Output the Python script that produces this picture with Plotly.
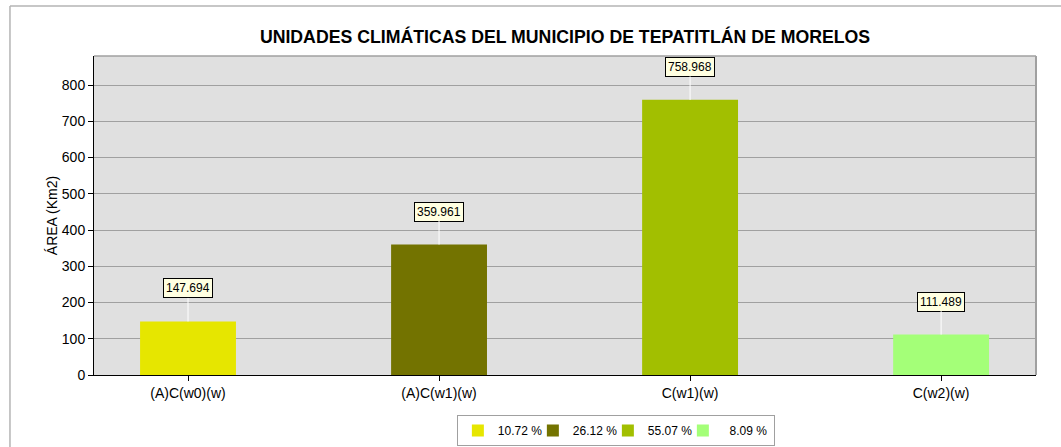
import plotly.graph_objects as go

categories = ["(A)C(w0)(w)", "(A)C(w1)(w)", "C(w1)(w)", "C(w2)(w)"]
areas = [147.694, 359.961, 758.968, 111.489]
percent_labels = ["10.72 %", "26.12 %", "55.07 %", "\u20078.09 %"]
colors = ["#E6E600", "#737300", "#A2BF00", "#A4FF78"]

title_text = "UNIDADES CLIMÁTICAS DEL MUNICIPIO DE TEPATITLÁN DE MORELOS"
y_title = "ÁREA (Km2)"

FONT = "Liberation Sans, Arial, sans-serif"

fig = go.Figure()
n = len(categories)
for i, (cat, val, lab, col) in enumerate(zip(categories, areas, percent_labels, colors)):
    fig.add_trace(go.Bar(
        x=[cat], y=[val], name=lab, marker=dict(color=col, line=dict(width=0)),
        width=0.382, hoverinfo="x+y",
        legendwidth=(46 if i == n - 1 else 30),
    ))

for cat, val in zip(categories, areas):
    fig.add_annotation(
        x=cat, y=val, xref="x", yref="y", text=f"{val:.3f}",
        showarrow=True, arrowhead=0, arrowwidth=1, arrowcolor="white",
        ax=0, ay=-33, bgcolor="#FFFFE1", bordercolor="#000000", borderwidth=1,
        borderpad=2, font=dict(family=FONT, size=12, color="#000"),
    )

# outer chart frame (left and top visible) and plot border (top/right)
fig.add_shape(type="line", xref="paper", yref="paper", x0=-0.0892, x1=1.04, y0=1.1567, y1=1.1567,
              line=dict(color="#B4B4B4", width=1.5), layer="above")
fig.add_shape(type="line", xref="paper", yref="paper", x0=-0.0892, x1=-0.0892, y0=1.1567, y1=-0.25,
              line=dict(color="#B4B4B4", width=1.5), layer="above")
fig.add_shape(type="line", xref="paper", yref="paper", x0=0, x1=1, y0=1, y1=1,
              line=dict(color="#A0A0A0", width=1.5), layer="above")
fig.add_shape(type="line", xref="paper", yref="paper", x0=1, x1=1, y0=0, y1=1,
              line=dict(color="#A0A0A0", width=2), layer="above")

fig.update_layout(
    width=1061, height=447,
    margin=dict(l=94, r=25, t=56, b=72, autoexpand=False),
    paper_bgcolor="white", plot_bgcolor="#E0E0E0",
    barmode="overlay",
    font=dict(family=FONT, size=14, color="#000"),
    title=dict(text=f"<b>{title_text}</b>", x=0.5, xref="paper", xanchor="center",
               y=1 - 37 / 447, yref="container", yanchor="middle",
               font=dict(family=FONT, size=17.7, color="#000")),
    showlegend=True,
    legend=dict(orientation="h", x=0.554, xanchor="center", y=-0.125, yanchor="top",
                bordercolor="#A0A0A0", borderwidth=1, bgcolor="white",
                font=dict(family=FONT, size=12, color="#000"),
                traceorder="normal", itemclick=False, itemdoubleclick=False),
    xaxis=dict(type="category", range=[-0.3745, 3.378], showgrid=False,
               showline=True, linecolor="#000", linewidth=1,
               ticks="outside", ticklen=5, tickcolor="#000", tickwidth=1,
               tickfont=dict(family=FONT, size=14, color="#000"), zeroline=False),
    yaxis=dict(range=[0, 880], dtick=100, showgrid=True, gridcolor="#A0A0A0", gridwidth=1,
               showline=True, linecolor="#000", linewidth=1,
               ticks="outside", ticklen=5, tickcolor="#000", tickwidth=1,
               tickfont=dict(family=FONT, size=14, color="#000"), zeroline=False,
               title=dict(text=y_title, standoff=0, font=dict(family=FONT, size=14, color="#000"))),
)

fig.write_html("out.html", config={"displayModeBar": False},
               post_script="document.body.style.margin='0';document.body.style.padding='0';")
